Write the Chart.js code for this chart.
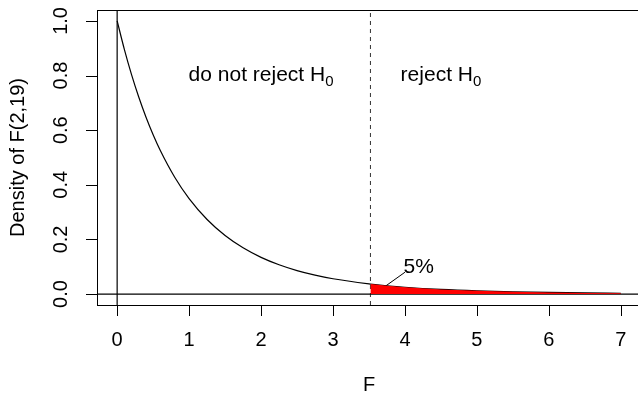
<!DOCTYPE html>
<html>
<head>
<meta charset="utf-8">
<script src="https://cdn.jsdelivr.net/npm/chart.js@4/dist/chart.umd.min.js"></script>
<style>
  html, body { margin: 0; padding: 0; background: #fff; overflow: hidden; }
  #wrap { width: 646px; height: 393px; }
</style>
</head>
<body>
<div id="wrap"><canvas id="fChart" width="646" height="393"></canvas></div>
<script>
// F(2,19) density, values
const densX = [0, 0.1, 0.2, 0.3, 0.4, 0.5, 0.6, 0.8, 1, 1.25, 1.5, 1.75, 2, 2.25, 2.5, 2.75, 3, 3.5, 3.52, 3.75, 4, 4.5, 5, 5.5, 6, 6.5, 7];
const densY = [1, 0.896, 0.8035, 0.7215, 0.6485, 0.5836, 0.5257, 0.4279, 0.3496, 0.2731, 0.2145, 0.1694, 0.1345, 0.1073, 0.086, 0.0693, 0.056, 0.0371, 0.0365, 0.0304, 0.025, 0.0171, 0.0118, 0.0083, 0.0059, 0.0042, 0.003];

// rejection region (shaded red)
const critValue = 3.52;
const tailX = [3.52, 3.75, 4, 4.5, 5, 5.5, 6, 6.5, 7];
const tailY = [0.0365, 0.0304, 0.025, 0.0171, 0.0118, 0.0083, 0.0059, 0.0042, 0.003];

// axis ticks and limits
const xTicks = [0, 1, 2, 3, 4, 5, 6, 7];
const yTicks = [0, 0.2, 0.4, 0.6, 0.8, 1.0];
const xLim = [-0.28, 7.28];
const yLim = [-0.04, 1.04];

// annotations
const pointerX = [3.67, 4.0];
const pointerY = [0.018, 0.08];
const pctLabel = { x: 4.19, y: 0.10, text: "5%" };
const regionLabels = [
  { x: 2.0, y: 0.8, text: "do not reject H", sub: "0" },
  { x: 4.5, y: 0.8, text: "reject H", sub: "0" },
];

const FONT = "'Liberation Sans', Arial, Helvetica, sans-serif";

const toPts = (xs, ys) => xs.map((x, i) => ({ x: x, y: ys[i] }));

// axes, box and texts drawn in R style
const rAxesPlugin = {
  id: "rAxes",
  afterDraw(chart) {
    const ctx = chart.ctx;
    const a = chart.chartArea;
    const xs = chart.scales.x;
    const ys = chart.scales.y;
    ctx.save();
    ctx.strokeStyle = "#000";
    ctx.lineWidth = 1;

    // box
    ctx.strokeRect(Math.round(a.left) + 0.5, Math.round(a.top) + 0.5,
      Math.round(a.right - a.left), Math.round(a.bottom - a.top));

    // x ticks
    ctx.beginPath();
    xTicks.forEach((v) => {
      const px = Math.round(xs.getPixelForValue(v)) + 0.5;
      ctx.moveTo(px, a.bottom);
      ctx.lineTo(px, a.bottom + 11);
    });
    // y ticks
    yTicks.forEach((v) => {
      const py = Math.round(ys.getPixelForValue(v)) + 0.5;
      ctx.moveTo(a.left, py);
      ctx.lineTo(a.left - 11, py);
    });
    ctx.stroke();

    ctx.fillStyle = "#000";
    ctx.font = "20px " + FONT;
    ctx.textAlign = "center";
    ctx.textBaseline = "middle";
    xTicks.forEach((v) => {
      ctx.fillText(String(v), xs.getPixelForValue(v), 340);
    });
    yTicks.forEach((v) => {
      ctx.save();
      ctx.translate(61, ys.getPixelForValue(v));
      ctx.rotate(-Math.PI / 2);
      ctx.fillText(v.toFixed(1), 0, 0);
      ctx.restore();
    });

    // axis titles
    ctx.fillText("F", (a.left + a.right) / 2, 385);
    ctx.save();
    ctx.translate(18, (a.top + a.bottom) / 2);
    ctx.rotate(-Math.PI / 2);
    ctx.fillText("Density of F(2,19)", 0, 0);
    ctx.restore();

    // region labels with subscript
    regionLabels.forEach((l) => {
      ctx.font = "21px " + FONT;
      const w1 = ctx.measureText(l.text).width;
      ctx.font = "15px " + FONT;
      const w2 = ctx.measureText(l.sub).width;
      const cx = xs.getPixelForValue(l.x);
      const cy = ys.getPixelForValue(l.y);
      const x0 = cx - (w1 + w2) / 2;
      ctx.textAlign = "left";
      ctx.font = "21px " + FONT;
      ctx.fillText(l.text, x0, cy);
      ctx.font = "15px " + FONT;
      ctx.fillText(l.sub, x0 + w1, cy + 6);
    });

    ctx.textAlign = "center";
    ctx.font = "21px " + FONT;
    ctx.fillText(pctLabel.text, xs.getPixelForValue(pctLabel.x), ys.getPixelForValue(pctLabel.y));
    ctx.restore();
  },
};

const ctx = document.getElementById("fChart").getContext("2d");
new Chart(ctx, {
  type: "scatter",
  data: {
    datasets: [
      {
        // red tail area
        data: toPts(tailX, tailY),
        showLine: true,
        borderWidth: 0,
        borderColor: "rgba(0,0,0,0)",
        backgroundColor: "#ff0000",
        fill: "origin",
        pointRadius: 0,
      },
      {
        // density curve
        data: toPts(densX, densY),
        showLine: true,
        borderColor: "#000",
        borderWidth: 1.2,
        cubicInterpolationMode: "monotone",
        pointRadius: 0,
        fill: false,
      },
      {
        // abline h = 0
        data: toPts(xLim, [0, 0]),
        showLine: true,
        borderColor: "#000",
        borderWidth: 1.2,
        pointRadius: 0,
      },
      {
        // abline v = 0
        data: toPts([0, 0], yLim),
        showLine: true,
        borderColor: "#000",
        borderWidth: 1.2,
        pointRadius: 0,
      },
      {
        // critical value
        data: toPts([critValue, critValue], yLim),
        showLine: true,
        borderColor: "#333",
        borderWidth: 1,
        borderDash: [4, 4],
        pointRadius: 0,
      },
      {
        // pointer to 5%
        data: toPts(pointerX, pointerY),
        showLine: true,
        borderColor: "#000",
        borderWidth: 1,
        pointRadius: 0,
      },
    ],
  },
  options: {
    responsive: false,
    animation: false,
    devicePixelRatio: 1,
    layout: { padding: { left: 97, top: 10, right: 5, bottom: 88 } },
    plugins: { legend: { display: false }, tooltip: { enabled: false } },
    scales: {
      x: { type: "linear", display: false, min: xLim[0], max: xLim[1] },
      y: { type: "linear", display: false, min: yLim[0], max: yLim[1] },
    },
  },
  plugins: [rAxesPlugin],
});
</script>
</body>
</html>
